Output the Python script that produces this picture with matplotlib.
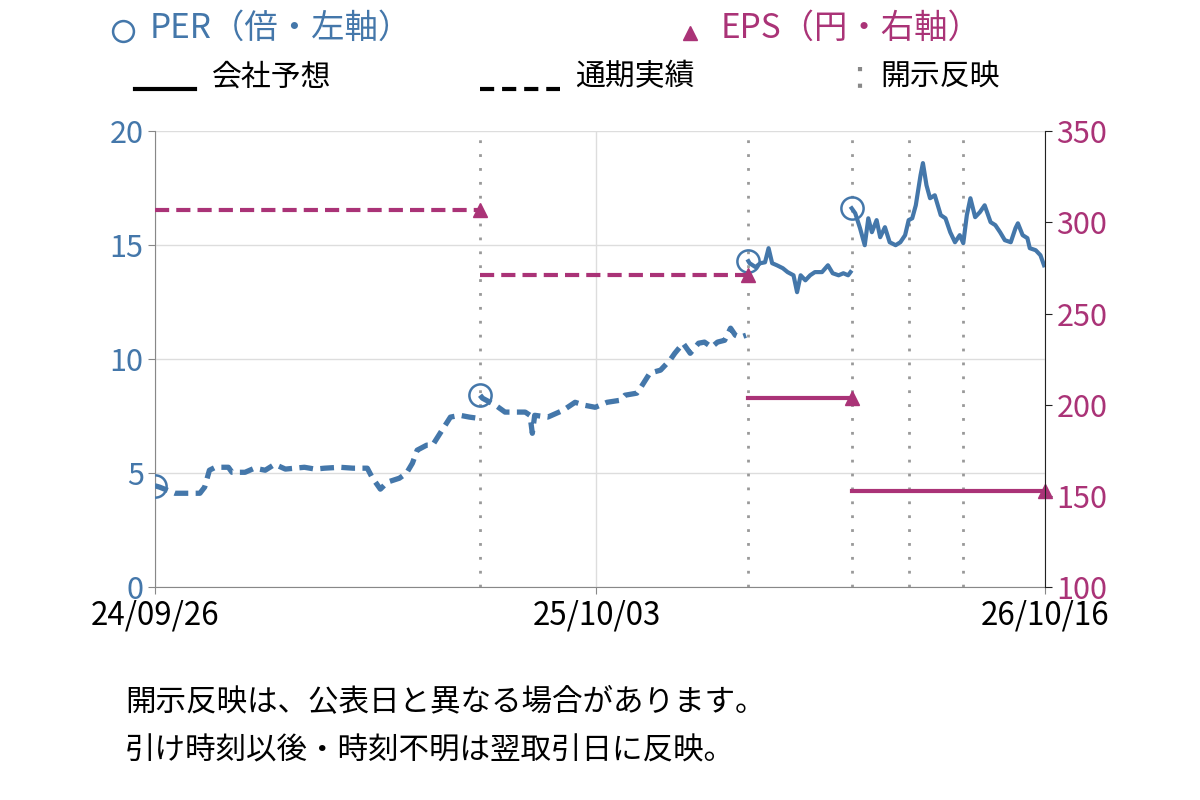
import pandas as pd
import matplotlib
matplotlib.use("Agg")
from matplotlib import pyplot as plt
from matplotlib.lines import Line2D

plt.rcParams["font.family"] = ["Noto Sans CJK JP", "DejaVu Sans"]

BLUE = "#4477aa"
MAGENTA = "#aa3377"
START = pd.Timestamp("2024-09-26")
END = pd.Timestamp("2026-10-16")

# PER（倍）: 経過日数（24/09/26 起点）と値、EPS 区間ごと
per_days_1 = [0, 4, 17, 28, 38, 42, 46, 51, 62, 65, 76, 84, 93, 101, 110, 118, 126, 135, 143,
              156, 167, 179, 183, 190, 196, 206, 212, 217, 221, 229, 234, 242, 249, 257, 265, 272]
per_vals_1 = [4.45, 4.39, 4.12, 4.12, 4.12, 4.39, 5.13, 5.26, 5.26, 5.04, 5.04, 5.22, 5.13, 5.39,
              5.18, 5.22, 5.26, 5.18, 5.22, 5.26, 5.22, 5.22, 4.82, 4.30, 4.61, 4.78, 5.00, 5.44,
              6.01, 6.23, 6.23, 6.89, 7.46, 7.54, 7.46, 7.41]
per_days_2 = [274, 276, 287, 295, 303, 312, 316, 318, 320, 331, 344, 354, 362, 371, 381, 392, 396,
              406, 409, 417, 426, 434, 438, 445, 451, 458, 463, 469, 474, 480, 485, 489, 493, 498]
per_vals_2 = [8.42, 8.29, 7.98, 7.68, 7.68, 7.68, 7.54, 6.75, 7.54, 7.46, 7.76, 8.11, 7.98, 7.89,
              8.11, 8.20, 8.42, 8.51, 8.73, 9.39, 9.52, 9.96, 10.26, 10.70, 10.26, 10.70, 10.75,
              10.53, 10.75, 10.83, 11.36, 11.05, 10.96, 11.05]
per_days_3 = [500, 501, 506, 510, 514, 517, 520, 524, 529, 533, 538, 541, 544, 548, 552, 556, 562,
              567, 571, 576, 580, 584, 586]
per_vals_3 = [14.30, 14.21, 14.04, 14.21, 14.25, 14.87, 14.21, 14.12, 13.99, 13.82, 13.68, 12.94,
              13.68, 13.46, 13.68, 13.82, 13.82, 14.12, 13.77, 13.68, 13.77, 13.68, 13.82]
per_days_4 = [587, 590, 594, 598, 601, 604, 608, 611, 615, 619, 624, 628, 632, 635, 638, 641, 645,
              647, 650, 653, 657, 662, 666, 670, 674, 678, 681, 684, 687, 691, 695, 699, 704, 708,
              712, 716, 721, 725, 727, 731, 735, 737, 742, 746, 749]
per_vals_4 = [16.62, 16.40, 15.75, 15.00, 16.18, 15.57, 16.10, 15.35, 15.79, 15.13, 15.00, 15.13,
              15.44, 16.10, 16.18, 16.75, 18.07, 18.60, 17.63, 17.06, 17.19, 16.32, 16.18, 15.57,
              15.13, 15.44, 15.09, 16.32, 17.06, 16.23, 16.45, 16.75, 16.01, 15.88, 15.57, 15.22,
              15.13, 15.75, 15.96, 15.44, 15.31, 14.87, 14.78, 14.56, 14.12]

# EPS（円）: 区間の開始・終了（経過日数）と値、種類
eps_start = [0, 274, 500, 587]
eps_end = [274, 500, 587, 750]
eps_vals = [307, 271, 204, 153]
eps_actual = [True, True, False, False]

# 開示反映日（経過日数）
disclosure_days = [274, 500, 587, 635, 681]

x_ticks = ["2024-09-26", "2025-10-03", "2026-10-16"]


def to_date(days):
    return START + pd.to_timedelta(days, unit="D")


fig = plt.figure(figsize=(12, 8), dpi=100)
ax = fig.add_axes([0.129, 0.266, 0.742, 0.570])
ax2 = ax.twinx()

for d in disclosure_days:
    ax.axvline(to_date(d), color="#999999", lw=2, dashes=(1, 4), zorder=1)

segments = [(per_days_1, per_vals_1), (per_days_2, per_vals_2),
            (per_days_3, per_vals_3), (per_days_4, per_vals_4)]
for (days, vals), actual in zip(segments, eps_actual):
    if actual:
        ax.plot(to_date(days), vals, color=BLUE, lw=3.8, dashes=(2.6, 1.4), zorder=3)
    else:
        ax.plot(to_date(days), vals, color=BLUE, lw=3, zorder=3)
    ax.plot(to_date(days[0]), vals[0], "o", ms=16, mfc="none", mec=BLUE, mew=1.8, zorder=4)

for s, e, v, actual in zip(eps_start, eps_end, eps_vals, eps_actual):
    if actual:
        ax2.plot(to_date([s, e]), [v, v], color=MAGENTA, lw=3, dashes=(3.4, 1.7))
    else:
        ax2.plot(to_date([s, e]), [v, v], color=MAGENTA, lw=3)
    ax2.plot(to_date(e), v, "^", ms=10, color=MAGENTA, clip_on=False)

ax.set_xlim(START, END)
ax.set_ylim(0, 20)
ax2.set_ylim(100, 350)
ax.set_yticks([0, 5, 10, 15, 20])
ax2.set_yticks([100, 150, 200, 250, 300, 350])
ax.set_xticks(pd.to_datetime(x_ticks))
ax.set_xticklabels([pd.Timestamp(t).strftime("%y/%m/%d") for t in x_ticks])
ax.grid(True, color="#dddddd", lw=1)
ax.set_axisbelow(True)

for a in (ax, ax2):
    a.spines["top"].set_visible(False)
ax.spines["right"].set_visible(False)
ax.spines["left"].set_color("#888888")
ax.spines["bottom"].set_color("#888888")
ax2.spines["left"].set_visible(False)
ax2.spines["bottom"].set_visible(False)
ax2.spines["right"].set_color("#222222")

ax.tick_params(axis="y", colors="#888888", labelcolor=BLUE, labelsize=22, length=5, pad=3)
ax.tick_params(axis="x", colors="#888888", labelcolor="black", labelsize=22.5, length=5, pad=4)
ax2.tick_params(axis="y", colors="#222222", labelcolor=MAGENTA, labelsize=22, length=5, pad=3)

# 凡例
fig.add_artist(Line2D([123 / 1200], [1 - 31 / 800], marker="o", ms=15, mfc="none",
                      mec=BLUE, mew=1.8, transform=fig.transFigure))
fig.text(150 / 1200, 1 - 28 / 800, "PER（倍・左軸）", color=BLUE, fontsize=24, va="center")
fig.add_artist(Line2D([690 / 1200], [1 - 33 / 800], marker="^", ms=10, color=MAGENTA,
                      transform=fig.transFigure))
fig.text(721 / 1200, 1 - 28 / 800, "EPS（円・右軸）", color=MAGENTA, fontsize=24, va="center")

fig.add_artist(Line2D([135 / 1200, 195 / 1200], [1 - 89 / 800] * 2, color="black", lw=3,
                      transform=fig.transFigure))
fig.text(212 / 1200, 1 - 77 / 800, "会社予想", color="black", fontsize=21.5, va="center")
fig.add_artist(Line2D([480 / 1200, 560 / 1200], [1 - 89 / 800] * 2, color="black", lw=3,
                      dashes=(3.4, 1.9), transform=fig.transFigure))
fig.text(575 / 1200, 1 - 77 / 800, "通期実績", color="black", fontsize=21.5, va="center")
fig.add_artist(Line2D([860 / 1200, 860 / 1200], [1 - 67 / 800, 1 - 100 / 800], color="#888888",
                      lw=3, dashes=(1, 3), transform=fig.transFigure))
fig.text(880 / 1200, 1 - 77 / 800, "開示反映", color="black", fontsize=21.5, va="center")

fig.text(125 / 1200, 1 - 703 / 800, "開示反映は、公表日と異なる場合があります。", fontsize=22, va="center")
fig.text(125 / 1200, 1 - 751 / 800, "引け時刻以後・時刻不明は翌取引日に反映。", fontsize=22, va="center")

fig.savefig("out.png", dpi=100)
